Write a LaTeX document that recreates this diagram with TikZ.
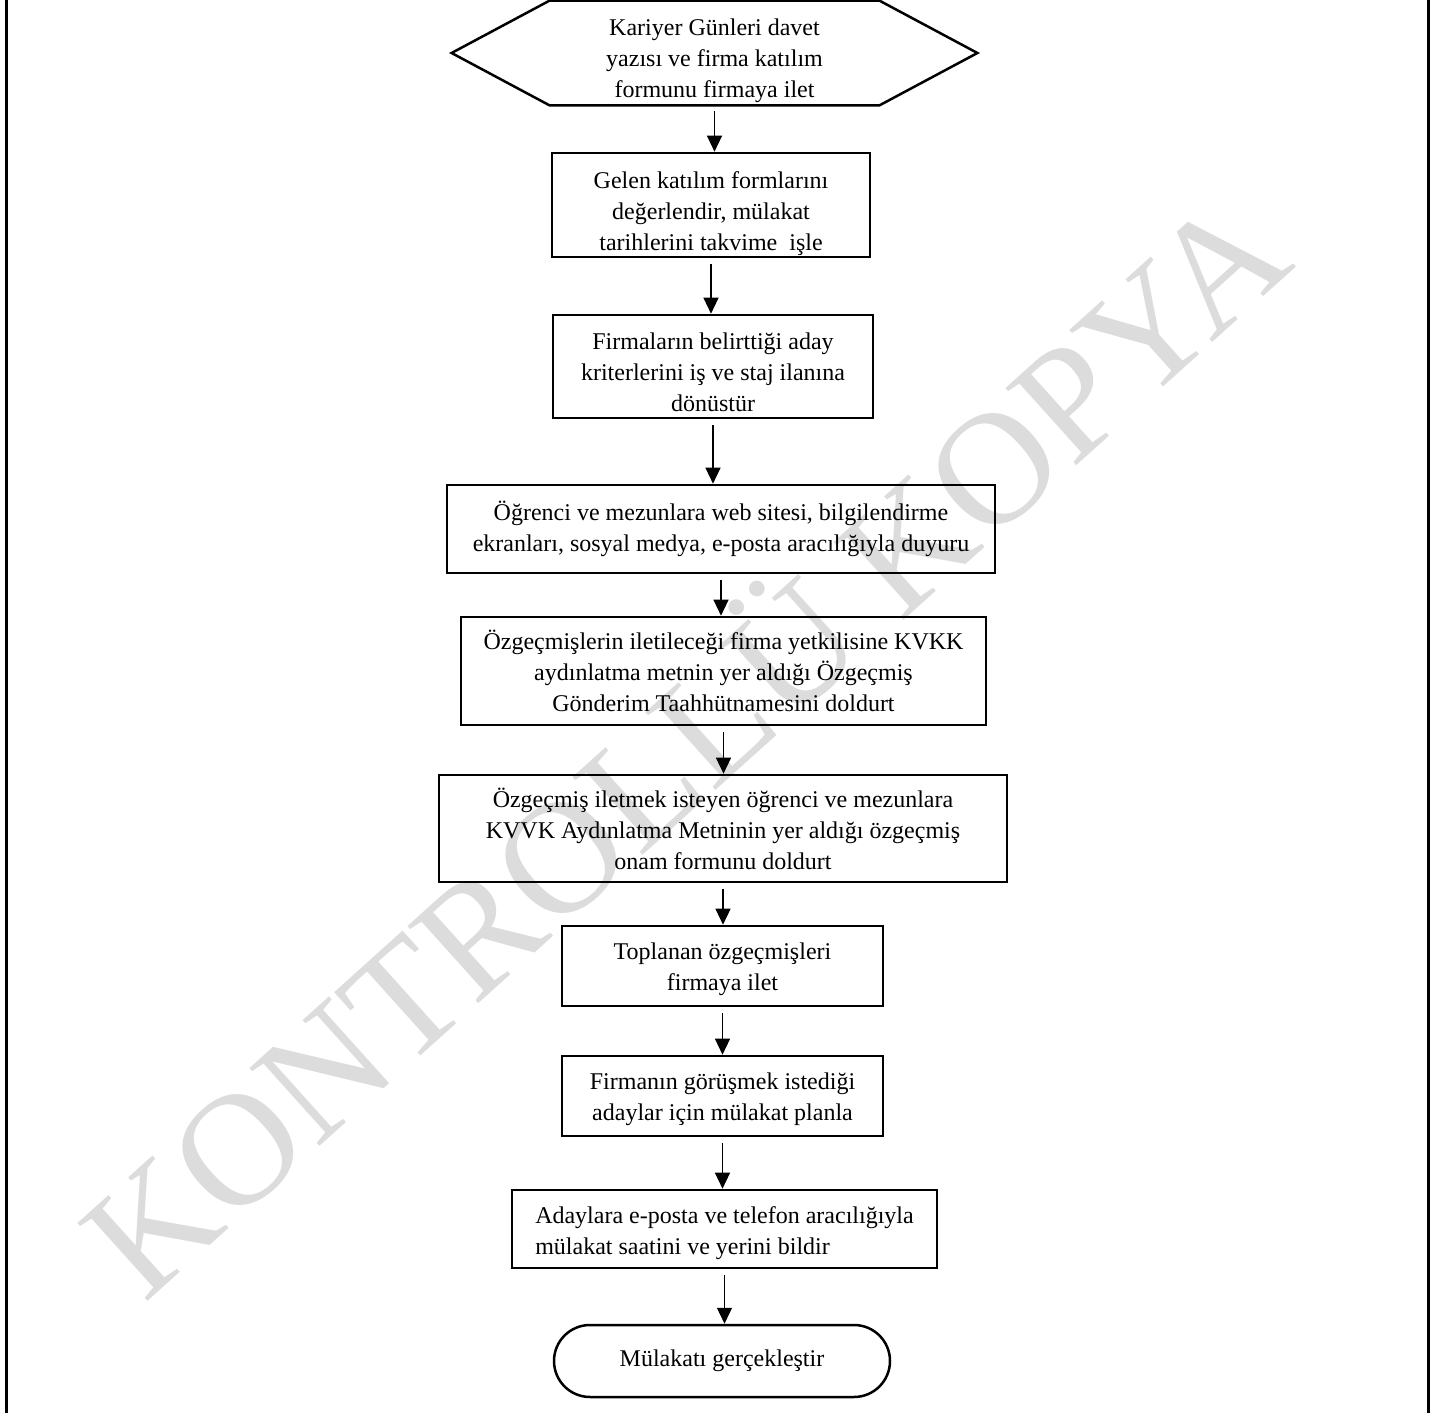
\documentclass[tikz,border=0pt]{standalone}
\usepackage{fontspec}
\setmainfont{Liberation Serif}
\usetikzlibrary{arrows.meta}
\tikzstyle{chart} = [x = .5pt, y = -.5pt]
\definecolor{markColor}{RGB}{220,220,220}
\newcommand{\stepFont}{\fontsize{12pt}{15.5pt}\selectfont}
\tikzstyle{boxStyle} = [draw=black, line width=1.3pt, rectangle, inner sep=0pt, align=center, font=\stepFont]
\tikzstyle{textStyle} = [inner sep=0pt, align=center, font=\stepFont]
\tikzstyle{hexStyle} = [draw=black, line width=1.25pt, line join=miter]
\tikzstyle{endStyle} = [boxStyle, line width=1.25pt, rounded corners=18pt]
\tikzstyle{arrowStyle} = [-{Triangle[length=8pt, width=7.5pt]}, line width=.65pt, shorten <= 3pt]
\tikzstyle{frameLine} = [draw=black, line width=1.5pt]
\tikzstyle{markStyle} = [color=markColor, inner sep=0pt, font=\fontsize{80pt}{80pt}\selectfont]
% #1 = height of the first line, pushes the text down a little
\newcommand{\stepBox}[6][0pt]{\node [boxStyle, minimum width = #5 * .5pt, minimum height = #6 * .5pt] (#2) at (#3) {\rule{0pt}{#1}#4};}
\newcommand{\flowArrow}[2]{\draw [arrowStyle] (#1.south) -- (#1.south |- #2.north);}

\begin{document}
\begin{tikzpicture}[chart]
  \useasboundingbox (0, 0) rectangle (1432, 1413);

  % watermark behind everything
  \node [markStyle, rotate = 42] (mark) at (678, 738) {KONTROLLÜ KOPYA};

  % page frame
  \draw [frameLine] (6, 0) -- (6, 1413);
  \draw [frameLine] (1428, 0) -- (1428, 1413);

  % start
  \node [textStyle, minimum width = 262.5pt, minimum height = 52pt] (invite) at (714.5, 53)
    {\rule{0pt}{15.7pt}Kariyer Günleri davet\\ yazısı ve firma katılım\\ formunu firmaya ilet};
  \draw [hexStyle] ([xshift = 49pt]invite.north west) -- ([xshift = -49pt]invite.north east)
    -- (invite.east) -- ([xshift = -49pt]invite.south east)
    -- ([xshift = 49pt]invite.south west) -- (invite.west) -- cycle;

  % steps
  \stepBox[17pt]{evaluate}{711, 205}{Gelen katılım formlarını\\ değerlendir, mülakat\\ tarihlerini takvime \ işle}{318}{104}
  \stepBox[14pt]{criteria}{713, 366.5}{Firmaların belirttiği aday\\ kriterlerini iş ve staj ilanına\\ dönüstür}{320}{103}
  \stepBox{announce}{721, 529}{Öğrenci ve mezunlara web sitesi, bilgilendirme\\ ekranları, sosyal medya, e-posta aracılığıyla duyuru}{548}{88}
  \stepBox{pledge}{723.5, 671}{Özgeçmişlerin iletileceği firma yetkilisine KVKK\\ aydınlatma metnin yer aldığı Özgeçmiş\\ Gönderim Taahhütnamesini doldurt}{525}{108}
  \stepBox{consent}{723, 828.5}{Özgeçmiş iletmek isteyen öğrenci ve mezunlara\\ KVVK Aydınlatma Metninin yer aldığı özgeçmiş\\ onam formunu doldurt}{568}{107}
  \stepBox[11.2pt]{collect}{722.5, 966}{Toplanan özgeçmişleri\\ firmaya ilet}{321}{80}
  \stepBox[11.2pt]{schedule}{722.5, 1096}{Firmanın görüşmek istediği\\ adaylar için mülakat planla}{321}{80}
  \node [boxStyle, align = left, minimum width = 212.5pt, minimum height = 39pt] (notify) at (724.5, 1229)
    {\rule{0pt}{12.7pt}Adaylara e-posta ve telefon aracılığıyla\\ mülakat saatini ve yerini bildir};

  % end
  \node [endStyle, minimum width = 168pt, minimum height = 36pt] (interview) at (722, 1361) {Mülakatı gerçekleştir};

  \foreach \from/\to in {invite/evaluate, evaluate/criteria, criteria/announce, announce/pledge,
    pledge/consent, consent/collect, collect/schedule, schedule/notify, notify/interview} {
    \flowArrow\from\to
  }
\end{tikzpicture}
\end{document}
